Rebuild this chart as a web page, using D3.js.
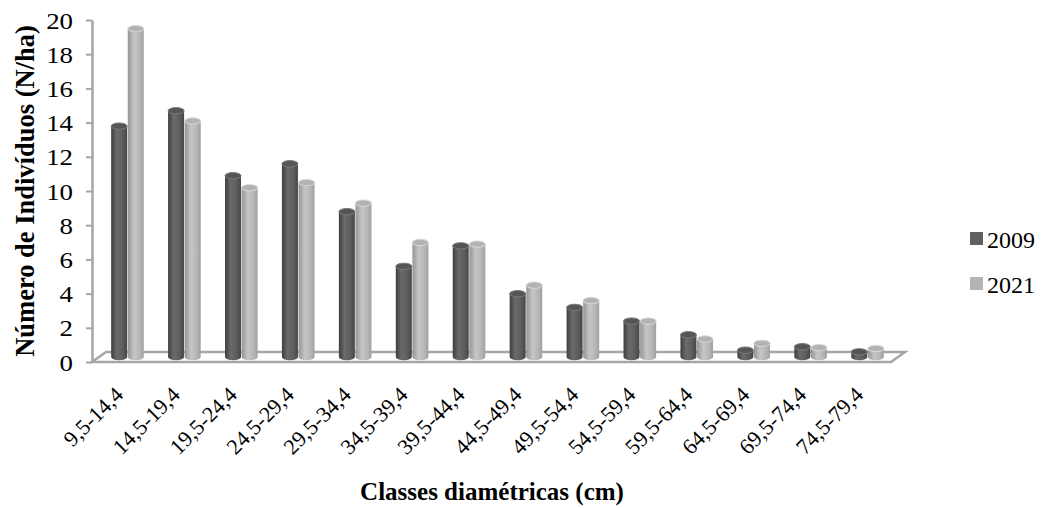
<!DOCTYPE html>
<html lang="pt">
<head>
<meta charset="UTF-8">
<title>Classes diamétricas</title>
<script src="https://cdn.jsdelivr.net/npm/d3@7/dist/d3.min.js"></script>
<style>
  body { margin: 0; background: #fff; }
  svg text { font-family: "Times New Roman", "Liberation Serif", serif; fill: #000; }
</style>
</head>
<body>
<script>
// dados
const classes = ['9,5-14,4', '14,5-19,4', '19,5-24,4', '24,5-29,4', '29,5-34,4', '34,5-39,4', '39,5-44,4',
                 '44,5-49,4', '49,5-54,4', '54,5-59,4', '59,5-64,4', '64,5-69,4', '69,5-74,4', '74,5-79,4'];
const series = ['2009', '2021'];
const v2009 = [13.5, 14.4, 10.6, 11.3, 8.5, 5.3, 6.5, 3.7, 2.9, 2.1, 1.3, 0.4, 0.6, 0.3];
const v2021 = [19.2, 13.8, 9.9, 10.2, 9.0, 6.7, 6.6, 4.2, 3.3, 2.1, 1.05, 0.8, 0.55, 0.5];
const yTicks = [0, 2, 4, 6, 8, 10, 12, 14, 16, 18, 20];

const width = 1043, height = 508;
const depth = [14, -10];   // profundidade do piso 3D
const mid = [7, -5];       // barras no meio da profundidade

const svg = d3.select('body').append('svg')
  .attr('width', width).attr('height', height);

const defs = svg.append('defs');
function grad(id, stops) {
  const g = defs.append('linearGradient').attr('id', id)
    .attr('x1', 0).attr('x2', 1).attr('y1', 0).attr('y2', 0);
  stops.forEach(s => g.append('stop').attr('offset', s[0]).attr('stop-color', s[1]));
}
grad('side2009', [[0, '#3e3e3e'], [0.35, '#6a6a6a'], [0.7, '#5e5e5e'], [1, '#474747']]);
grad('side2021', [[0, '#959595'], [0.4, '#c6c6c6'], [0.75, '#b6b6b6'], [1, '#a0a0a0']]);
const topFill = { '2009': '#555555', '2021': '#b3b3b3' };
const topRim = { '2009': '#7a7a7a', '2021': '#dadada' };
const legendFill = { '2009': '#606060', '2021': '#b4b4b4' };

const y = d3.scaleLinear().domain([0, 20]).range([362, 20]);
const x = d3.scaleBand().domain(classes).range([92 + mid[0], 889 + mid[0]]);
const xs = d3.scaleBand().domain(series).range([-16.6, 16.6]);

// piso
const x0 = 92, x1 = 891, yb = y(0);
svg.append('path')
  .attr('d', `M${x0},${yb} L${x1},${yb} L${x1 + depth[0]},${yb + depth[1]} L${x0 + depth[0]},${yb + depth[1]} Z`)
  .attr('fill', '#fff').attr('stroke', '#a6a6a6').attr('stroke-width', 2.5);

// eixo y
const yAxis = svg.append('g').attr('transform', `translate(${x0},0)`)
  .call(d3.axisLeft(y).tickValues(yTicks).tickSize(6).tickSizeOuter(0));
yAxis.attr('font-family', null);
yAxis.select('.domain').attr('stroke', '#a6a6a6').attr('stroke-width', 2.5);
yAxis.selectAll('.tick line').attr('stroke', '#a6a6a6').attr('stroke-width', 2);
yAxis.selectAll('.tick text')
  .attr('x', null).attr('dy', '0.34em')
  .attr('text-anchor', 'end')
  .attr('transform', 'translate(-19,0) scale(1.12,1)')
  .style('font-size', '24px');

// cilindros
const rows = [];
classes.forEach((c, i) => {
  rows.push({ c: c, s: '2009', v: v2009[i] });
  rows.push({ c: c, s: '2021', v: v2021[i] });
});
const bw = xs.bandwidth(), rx = bw / 2 - 0.3, ry = 3.2;
const base = y(0) + mid[1];

const cyl = svg.append('g').selectAll('g').data(rows).join('g')
  .attr('transform', d => `translate(${x(d.c) + x.bandwidth() / 2 + xs(d.s) + bw / 2},0)`);
cyl.append('path')
  .attr('d', d => {
    const t = y(d.v) + mid[1];
    return `M${-rx},${t} L${-rx},${base} A${rx},${ry} 0 0 0 ${rx},${base} L${rx},${t} Z`;
  })
  .attr('fill', d => `url(#side${d.s})`);
cyl.append('ellipse')
  .attr('cx', 0).attr('cy', d => y(d.v) + mid[1])
  .attr('rx', rx).attr('ry', ry)
  .attr('fill', d => topFill[d.s])
  .attr('stroke', d => topRim[d.s]).attr('stroke-width', 1);

// rótulos do eixo x
svg.append('g').selectAll('text').data(classes).join('text')
  .attr('text-anchor', 'end')
  .attr('transform', d => `translate(${x(d) + x.bandwidth() / 2 - 3},396) rotate(-45)`)
  .style('font-size', '22px')
  .text(d => d);

// títulos
svg.append('text')
  .attr('text-anchor', 'middle')
  .attr('x', 492).attr('y', 500)
  .style('font-size', '25px').style('font-weight', 'bold')
  .text('Classes diamétricas (cm)');
svg.append('text')
  .attr('text-anchor', 'middle')
  .attr('transform', 'translate(34,191) rotate(-90)')
  .style('font-size', '26.5px').style('font-weight', 'bold')
  .text('Número de Indivíduos (N/ha)');

// legenda
const leg = svg.append('g').selectAll('g').data(series).join('g')
  .attr('transform', (d, i) => `translate(970,${232 + i * 45})`);
leg.append('rect').attr('width', 13).attr('height', 13)
  .attr('fill', d => legendFill[d]);
leg.append('text').attr('x', 17).attr('y', 16)
  .style('font-size', '24px')
  .text(d => d);
</script>
</body>
</html>
